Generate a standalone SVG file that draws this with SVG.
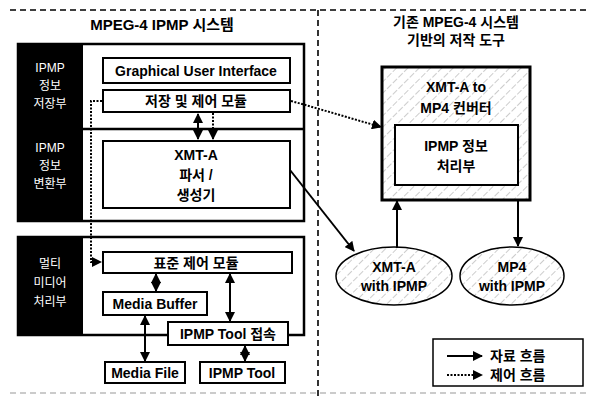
<svg xmlns="http://www.w3.org/2000/svg" width="594" height="400" viewBox="0 0 594 400">
<style>
text{font-family:"Liberation Sans","Noto Sans CJK KR",sans-serif;font-weight:bold;fill:#000;text-anchor:middle}
.side{fill:#fff;font-weight:normal;font-size:12px}
.box{fill:#fff;stroke:#000;stroke-width:2}
.frame{fill:none;stroke:#000;stroke-width:2.5}
.lbl{font-size:14px}
.sep{stroke:#000;stroke-width:1.6;stroke-dasharray:6 4;fill:none}
.data{stroke:#000;stroke-width:2;fill:none}
.ctrl{stroke:#000;stroke-width:2;stroke-dasharray:2 1.5;fill:none}
.hatch{fill:url(#hatch);stroke:#000}
</style>
<defs>
<marker id="ah" viewBox="0 0 10 10" refX="9" refY="5" markerWidth="5" markerHeight="5" orient="auto-start-reverse" markerUnits="strokeWidth">
<path d="M0,0 L10,5 L0,10 z" fill="#000"/>
</marker>
<pattern id="hatch" width="8" height="8" patternUnits="userSpaceOnUse" patternTransform="rotate(45)">
<rect width="8" height="8" fill="#fff"/>
<line x1="0" y1="0" x2="0" y2="8" stroke="#999" stroke-width="1" stroke-dasharray="5 2"/>
</pattern>
</defs>
<rect width="594" height="400" fill="#fff"/>
<g id="separators">
<line class="sep" x1="10" y1="10" x2="590" y2="10"/>
<line class="sep" x1="318" y1="10" x2="318" y2="400"/>
<line x1="10" y1="393" x2="590" y2="393" stroke="#bbb" stroke-width="1.6" stroke-dasharray="6 4"/>
</g>
<g id="titles">
<text x="162" y="30" font-size="15">MPEG-4 IPMP 시스템</text>
<text x="456" y="27" font-size="14">기존 MPEG-4 시스템</text>
<text x="456" y="45" font-size="14">기반의 저작 도구</text>
</g>
<g id="frame-top">
<rect x="18" y="44" width="65" height="177" fill="#000"/>
<rect class="frame" x="18" y="44" width="286" height="177"/>
<line x1="83" y1="129" x2="304" y2="129" stroke="#000" stroke-width="2.5"/>
<text class="side" x="50" y="72">IPMP</text>
<text class="side" x="50" y="90">정보</text>
<text class="side" x="50" y="108">저장부</text>
<text class="side" x="50" y="152">IPMP</text>
<text class="side" x="50" y="170">정보</text>
<text class="side" x="50" y="188">변환부</text>
</g>
<g id="frame-bottom">
<rect x="18" y="237" width="65" height="98" fill="#000"/>
<rect class="frame" x="18" y="237" width="286" height="98"/>
<text class="side" x="50" y="268">멀티</text>
<text class="side" x="50" y="287">미디어</text>
<text class="side" x="50" y="306">처리부</text>
</g>
<g id="gui"><rect class="box" x="103" y="58" width="187" height="25"/><text class="lbl" x="196" y="76">Graphical User Interface</text></g>
<g id="storage"><rect class="box" x="103" y="90" width="187" height="22"/><text class="lbl" x="196" y="106">저장 및 제어 모듈</text></g>
<g id="parser"><rect class="box" x="103" y="141" width="187" height="67"/>
<text class="lbl" x="196" y="160">XMT-A</text><text class="lbl" x="196" y="180">파서 /</text><text class="lbl" x="196" y="200">생성기</text></g>
<g id="stdctrl"><rect class="box" x="103" y="252" width="189" height="21"/><text class="lbl" x="196" y="268">표준 제어 모듈</text></g>
<g id="buffer"><rect class="box" x="103" y="292" width="104" height="23"/><text class="lbl" x="155" y="309">Media Buffer</text></g>
<g id="toolconn"><rect class="box" x="168" y="322" width="120" height="23"/><text class="lbl" x="228" y="339">IPMP Tool 접속</text></g>
<g id="mediafile"><rect class="box" x="105" y="362" width="80" height="21"/><text class="lbl" x="145" y="378">Media File</text></g>
<g id="ipmptool"><rect class="box" x="200" y="362" width="85" height="21"/><text class="lbl" x="242" y="378">IPMP Tool</text></g>
<g id="converter">
<rect class="hatch" x="382" y="67" width="148" height="133" stroke-width="3"/>
<text class="lbl" x="456" y="92">XMT-A to</text>
<text class="lbl" x="456" y="113">MP4 컨버터</text>
</g>
<g id="ipmpinfo"><rect class="box" x="395" y="125" width="123" height="60" stroke-width="1.5"/>
<text class="lbl" x="456" y="151">IPMP 정보</text><text class="lbl" x="456" y="171">처리부</text></g>
<g id="xmta-file"><ellipse class="hatch" cx="394" cy="276" rx="58" ry="29" stroke-width="1.5"/>
<text class="lbl" x="394" y="272">XMT-A</text><text class="lbl" x="394" y="291">with IPMP</text></g>
<g id="mp4-file"><ellipse class="hatch" cx="512" cy="276" rx="52" ry="29" stroke-width="1.5"/>
<text class="lbl" x="512" y="272">MP4</text><text class="lbl" x="512" y="291">with IPMP</text></g>
<g id="connectors">
<line class="data" x1="198" y1="114" x2="198" y2="139" marker-start="url(#ah)" marker-end="url(#ah)"/>
<line class="ctrl" x1="213" y1="113" x2="213" y2="139" marker-end="url(#ah)"/>
<polyline class="ctrl" points="102,101 91,101 91,262 101,262" marker-end="url(#ah)"/>
<polyline class="ctrl" points="291,101 302,104 381,127" marker-end="url(#ah)"/>
<line class="data" x1="290" y1="170" x2="354" y2="251" marker-end="url(#ah)"/>
<line class="data" x1="156" y1="274" x2="156" y2="291" marker-start="url(#ah)" marker-end="url(#ah)"/>
<line class="data" x1="230" y1="274" x2="230" y2="321" marker-start="url(#ah)" marker-end="url(#ah)"/>
<line class="data" x1="145" y1="316" x2="145" y2="361" marker-start="url(#ah)" marker-end="url(#ah)"/>
<line class="data" x1="245" y1="346" x2="245" y2="361" marker-start="url(#ah)" marker-end="url(#ah)"/>
<line class="data" x1="397" y1="248" x2="397" y2="201" marker-end="url(#ah)"/>
<line class="data" x1="518" y1="201" x2="518" y2="246" marker-end="url(#ah)"/>
</g>
<g id="legend">
<rect x="433" y="339" width="150" height="47" fill="#fff" stroke="#000" stroke-width="1.5"/>
<line class="data" x1="447" y1="356" x2="482" y2="356" marker-end="url(#ah)"/>
<line class="ctrl" x1="447" y1="375" x2="482" y2="375" marker-end="url(#ah)"/>
<text class="lbl" x="490" y="361" style="text-anchor:start">자료 흐름</text>
<text class="lbl" x="490" y="380" style="text-anchor:start">제어 흐름</text>
</g>
</svg>
